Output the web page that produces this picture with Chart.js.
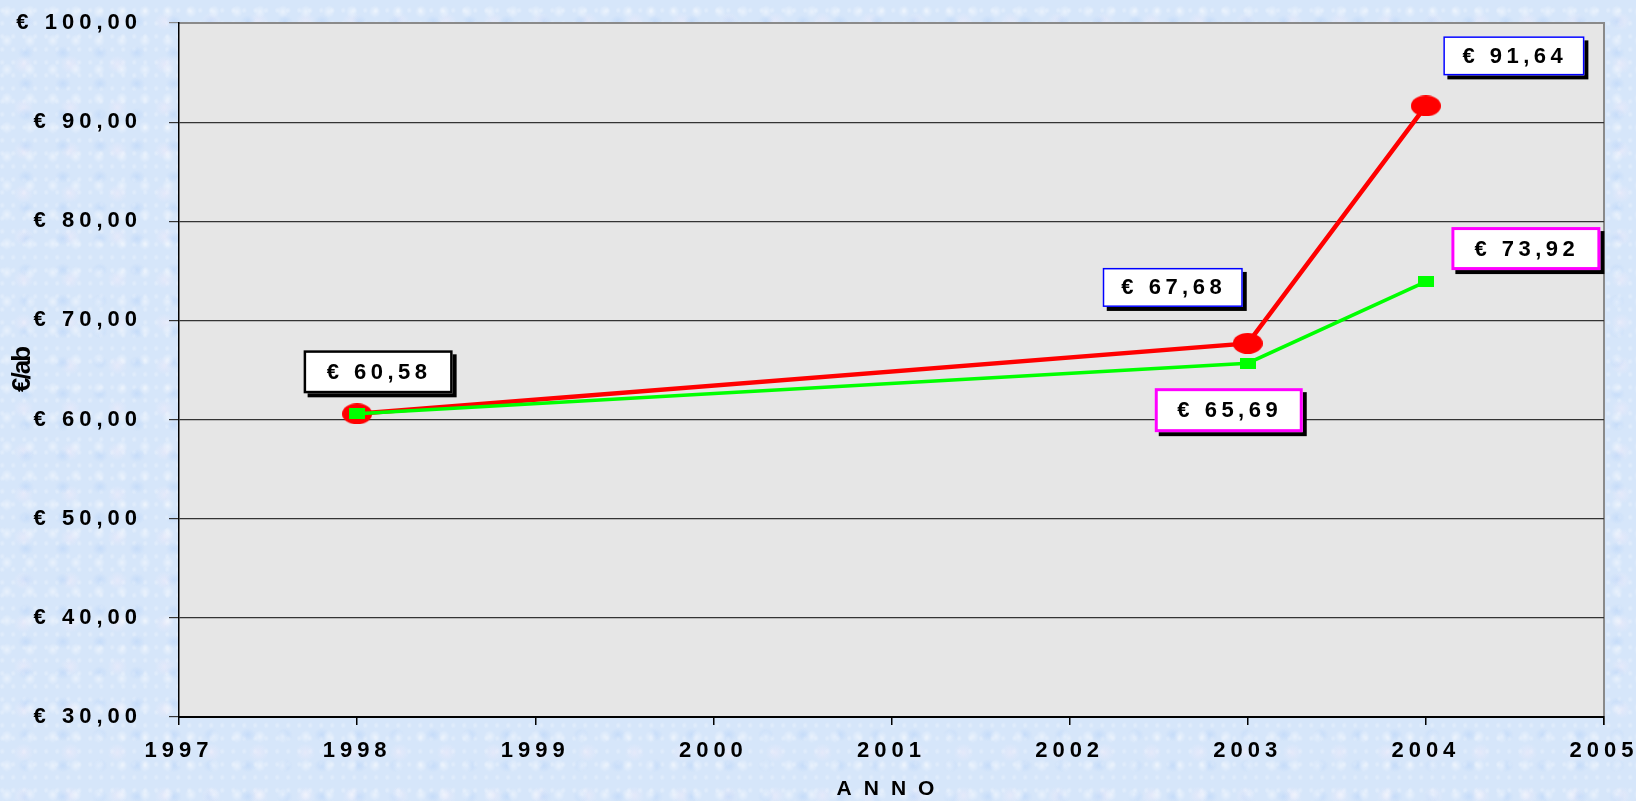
<!DOCTYPE html>
<html>
<head>
<meta charset="utf-8">
<script src="https://cdn.jsdelivr.net/npm/chart.js@4/dist/chart.umd.min.js"></script>
<style>
  html, body { margin: 0; padding: 0; }
  body {
    width: 1636px; height: 801px; overflow: hidden;
    background-color: #d6e6fa;
    background-image:
      radial-gradient(ellipse at 30% 40%, rgba(255,255,255,0.45) 0, rgba(255,255,255,0) 6px),
      radial-gradient(ellipse at 70% 70%, rgba(185,212,248,0.55) 0, rgba(185,212,248,0) 8px),
      radial-gradient(ellipse at 50% 50%, rgba(242,236,250,0.5) 0, rgba(242,236,250,0) 10px),
      radial-gradient(ellipse at 20% 80%, rgba(255,255,255,0.3) 0, rgba(255,255,255,0) 3px);
    background-size: 23px 29px, 37px 31px, 47px 43px, 11px 13px;
  }
  #wrap { position: relative; width: 1636px; height: 801px; }
</style>
</head>
<body>
<div id="wrap"><canvas id="myChart"></canvas></div>
<script>
// ---- data ----
var years = [1998, 2003, 2004];
var costoRosso = [60.58, 67.68, 91.64];
var costoVerde = [60.58, 65.69, 73.92];
var yMin = 30, yMax = 100, yStep = 10;
var xMin = 1997, xMax = 2005;

function euro(v){
  return '€ ' + v.toFixed(2).replace('.', ',');
}

// label boxes: offset of box centre from the point, border colour
var redBoxes = [
  {dx: 21, dy: -42, w: 149, h: 43, border: '#000000', bw: 2.5},
  {dx: -75, dy: -56, w: 140, h: 39, border: '#0000ff', bw: 1.5},
  {dx: 88, dy: -50, w: 141, h: 39, border: '#0000ff', bw: 1.5}
];
var greenBoxes = [
  null,
  {dx: -19, dy: 47, w: 148, h: 44, border: '#ff00ff', bw: 3},
  {dx: 100, dy: -33, w: 149, h: 43, border: '#ff00ff', bw: 3}
];

// markers
function makeEllipse(w, h, col){
  var c = document.createElement('canvas');
  c.width = w; c.height = h;
  var x = c.getContext('2d');
  x.fillStyle = col;
  x.beginPath();
  x.ellipse(w/2, h/2, w/2, h/2, 0, 0, Math.PI*2);
  x.fill();
  return c;
}
function makeRect(w, h, col){
  var c = document.createElement('canvas');
  c.width = w; c.height = h;
  var x = c.getContext('2d');
  x.fillStyle = col;
  x.fillRect(0, 0, w, h);
  return c;
}
var redDot = makeEllipse(30, 21, '#ff0000');
var greenSq = makeRect(16, 11, '#00ff00');

var spacingPlugin = {
  id: 'spacing',
  beforeLayout: function(chart){ chart.ctx.letterSpacing = '5px'; },
  beforeDraw: function(chart){
    var ctx = chart.ctx, a = chart.chartArea;
    ctx.letterSpacing = '5px';
    ctx.save();
    ctx.fillStyle = '#e6e6e6';
    ctx.fillRect(a.left, a.top, a.right - a.left, a.bottom - a.top);
    ctx.strokeStyle = '#8a8a8a';
    ctx.lineWidth = 2;
    ctx.beginPath();
    ctx.moveTo(a.left, a.top);
    ctx.lineTo(a.right, a.top);
    ctx.lineTo(a.right, a.bottom + 8);
    ctx.stroke();
    ctx.restore();
  }
};

var boxPlugin = {
  id: 'boxes',
  afterDatasetsDraw: function(chart){
    var ctx = chart.ctx;
    var sets = [[1, redBoxes, costoRosso], [0, greenBoxes, costoVerde]];
    ctx.save();
    ctx.font = 'bold 22px "Liberation Sans", Arial, sans-serif';
    ctx.letterSpacing = '4.5px';
    ctx.textAlign = 'center';
    ctx.textBaseline = 'middle';
    sets.forEach(function(s){
      var meta = chart.getDatasetMeta(s[0]);
      meta.data.forEach(function(pt, i){
        var b = s[1][i];
        if(!b) return;
        var cx = pt.x + b.dx, cy = pt.y + b.dy;
        var l = cx - b.w/2, t = cy - b.h/2;
        ctx.fillStyle = '#000';
        ctx.fillRect(l + 4, t + 4, b.w, b.h);
        ctx.fillStyle = '#fff';
        ctx.fillRect(l, t, b.w, b.h);
        ctx.strokeStyle = b.border;
        ctx.lineWidth = b.bw;
        ctx.strokeRect(l + b.bw/2, t + b.bw/2, b.w - b.bw, b.h - b.bw);
        ctx.fillStyle = '#000';
        ctx.fillText(euro(s[2][i]), cx + 1, cy + 1);
      });
    });
    ctx.restore();
  }
};

function wrapTitle(scale, spacing){
  if(scale._titleWrapped) return;
  var orig = scale.drawTitle;
  scale.drawTitle = function(){
    var c = this.ctx;
    var old = c.letterSpacing;
    c.letterSpacing = spacing;
    orig.apply(this, arguments);
    c.letterSpacing = old;
  };
  scale._titleWrapped = true;
}

var tickFont = {family: '"Liberation Sans", Arial, sans-serif', size: 22, weight: 'bold'};

var ctx = document.getElementById('myChart').getContext('2d');
var chart = new Chart(ctx, {
  type: 'line',
  data: {
    datasets: [{
      label: 'verde',
      data: years.map(function(y, i){ return {x: y, y: costoVerde[i]}; }),
      borderColor: '#00ff00',
      borderWidth: 3.5,
      pointStyle: greenSq,
      tension: 0,
      fill: false
    }, {
      label: 'rosso',
      data: years.map(function(y, i){ return {x: y, y: costoRosso[i]}; }),
      borderColor: '#ff0000',
      borderWidth: 4.5,
      pointStyle: redDot,
      tension: 0,
      fill: false
    }]
  },
  options: {
    responsive: true,
    maintainAspectRatio: false,
    animation: false,
    layout: { padding: {top: 23, right: 32, left: 0, bottom: 0} },
    plugins: {
      legend: { display: false },
      tooltip: { enabled: false }
    },
    scales: {
      x: {
        type: 'linear',
        min: xMin, max: xMax,
        ticks: {
          stepSize: 1,
          color: '#000',
          font: tickFont,
          padding: 13,
          maxRotation: 0,
          callback: function(v){ return String(v); }
        },
        grid: { drawOnChartArea: false, drawTicks: true, tickLength: 8, color: '#000', lineWidth: 1.5 },
        border: { color: '#000', width: 2 },
        title: {
          display: true, text: 'ANNO', color: '#000',
          font: {family: '"Liberation Sans", Arial, sans-serif', size: 21, weight: 'bold', lineHeight: 1},
          padding: {top: 0, bottom: 1}
        },
        afterFit: function(s){
          s.height = 84;
          s.paddingLeft = 0; s.paddingRight = 0;
          wrapTitle(s, '12px');
        }
      },
      y: {
        min: yMin, max: yMax,
        ticks: {
          stepSize: yStep,
          color: '#000',
          font: tickFont,
          padding: 27,
          callback: function(v){ return euro(v); }
        },
        grid: {
          color: function(c){ return c.tick && c.tick.value === yMax ? '#8a8a8a' : '#333333'; },
          lineWidth: 1.2,
          tickLength: 10,
          drawTicks: true
        },
        border: { color: '#000', width: 1.5 },
        title: {
          display: true, text: '€/ab', color: '#000',
          font: {family: '"Liberation Sans", Arial, sans-serif', size: 26, weight: 'bold', lineHeight: 1.2},
          padding: {top: 7, bottom: 0}
        },
        afterFit: function(s){
          s.width = 179;
          s.paddingTop = 0; s.paddingBottom = 0;
          wrapTitle(s, '-2px');
        }
      }
    }
  },
  plugins: [spacingPlugin, boxPlugin]
});
</script>
</body>
</html>
